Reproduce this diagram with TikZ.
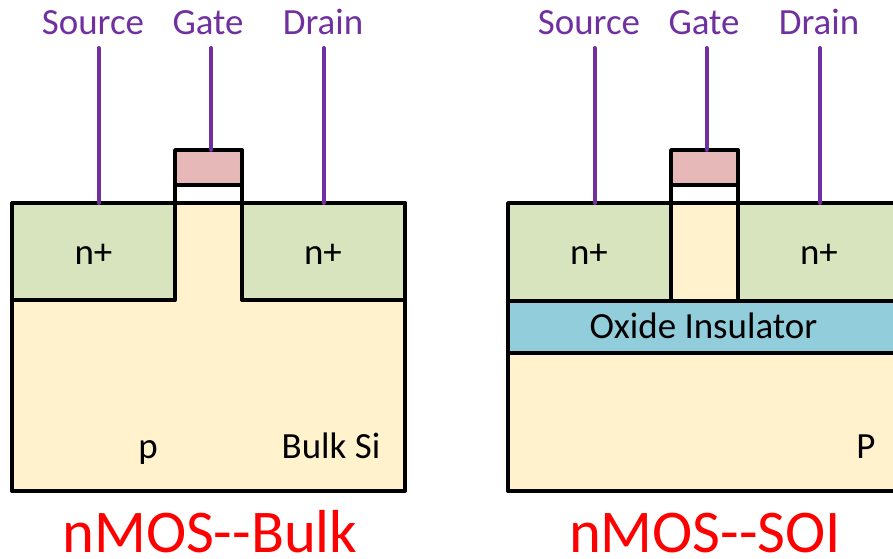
\documentclass[tikz,border=0pt]{standalone}
\usepackage{fontspec}
\setmainfont{Carlito}
\definecolor{nplus}{RGB}{215,228,189}
\definecolor{psub}{RGB}{255,242,204}
\definecolor{poly}{RGB}{230,185,184}
\definecolor{oxide}{RGB}{146,205,220}
\definecolor{leadpurple}{RGB}{112,48,160}
\tikzset{every picture/.style={line width=0.75pt}}
\tikzset{
  region/.style={draw=black,line width=2.9pt,line join=round},
  lead/.style={draw=leadpurple,line width=3pt,line cap=round},
  pinlabel/.style={anchor=base,inner sep=0.75pt,text=leadpurple,font=\fontsize{27.7}{30}\selectfont},
  bodylabel/.style={anchor=base,inner sep=0.75pt,font=\fontsize{27.7}{30}\selectfont},
  devtitle/.style={anchor=base,inner sep=0.75pt,text=red,font=\fontsize{45.5}{50}\selectfont}
}

\begin{document}
\begin{tikzpicture}[x=0.75pt,y=0.75pt,yscale=-1,xscale=1]
\useasboundingbox (0,0) rectangle (893,559);
\clip (0,0) rectangle (893,559);

%Shape: Bulk substrate
\draw [region,fill=psub] (12,203) -- (405,203) -- (405,491) -- (12,491) -- cycle ;
%Shape: Bulk source well
\draw [region,fill=nplus] (12,203) -- (175,203) -- (175,300) -- (12,300) -- cycle ;
%Shape: Bulk drain well
\draw [region,fill=nplus] (242,203) -- (405,203) -- (405,300) -- (242,300) -- cycle ;
%Shape: Bulk gate oxide
\draw [region,fill=white] (175,185) rectangle (242,203) ;
%Shape: Bulk gate
\draw [region,fill=poly] (175,150) rectangle (242,185) ;

%Shape: SOI substrate
\draw [region,fill=psub] (508,353) -- (905,353) -- (905,491) -- (508,491) -- cycle ;
%Shape: SOI oxide
\draw [region,fill=oxide] (508,301) -- (905,301) -- (905,353) -- (508,353) -- cycle ;
%Shape: SOI source well
\draw [region,fill=nplus] (508,203) -- (671,203) -- (671,301) -- (508,301) -- cycle ;
%Shape: SOI body
\draw [region,fill=psub] (671,203) rectangle (738,301) ;
%Shape: SOI drain well
\draw [region,fill=nplus] (738,203) -- (905,203) -- (905,301) -- (738,301) -- cycle ;
%Shape: SOI gate oxide
\draw [region,fill=white] (671,185) rectangle (738,203) ;
%Shape: SOI gate
\draw [region,fill=poly] (671,150) rectangle (738,185) ;

% Lead ends
\coordinate (bsourcetop) at (98.5,48);
\coordinate (bsourcepad) at (98.5,203);
\coordinate (bgatetop) at (211,48);
\coordinate (bgatepad) at (211,150);
\coordinate (bdraintop) at (323.5,48);
\coordinate (bdrainpad) at (323.5,203);
\coordinate (ssourcetop) at (594.5,48);
\coordinate (ssourcepad) at (594.5,203);
\coordinate (sgatetop) at (706.5,48);
\coordinate (sgatepad) at (706.5,150);
\coordinate (sdraintop) at (820,48);
\coordinate (sdrainpad) at (820,203);

\draw [lead] (bsourcetop) -- (bsourcepad) ;
\draw [lead] (bgatetop) -- (bgatepad) ;
\draw [lead] (bdraintop) -- (bdrainpad) ;
\draw [lead] (ssourcetop) -- (ssourcepad) ;
\draw [lead] (sgatetop) -- (sgatepad) ;
\draw [lead] (sdraintop) -- (sdrainpad) ;

% Text Node
\draw (93,35) node [pinlabel] (bsource) {Source};
% Text Node
\draw (208,35) node [pinlabel] (bgate) {Gate};
% Text Node
\draw (323,35) node [pinlabel] (bdrain) {Drain};
% Text Node
\draw (589,35) node [pinlabel] (ssource) {Source};
% Text Node
\draw (704,35) node [pinlabel] (sgate) {Gate};
% Text Node
\draw (819,35) node [pinlabel] (sdrain) {Drain};
% Text Node
\draw (93.5,264.5) node [bodylabel] (bleft) {n+};
% Text Node
\draw (323,264.5) node [bodylabel] (bright) {n+};
% Text Node
\draw (589,264.5) node [bodylabel] (sleft) {n+};
% Text Node
\draw (819,264.5) node [bodylabel] (sright) {n+};
% Text Node
\draw (703.5,339) node [bodylabel] (soxide) {Oxide Insulator};
% Text Node
\draw (148,459) node [bodylabel] (bsub) {p};
% Text Node
\draw (331,459) node [bodylabel] (bsi) {Bulk Si};
% Text Node
\draw (866,459) node [bodylabel] (ssub) {P};
% Text Node
\draw (210,552) node [devtitle] (btitle) {nMOS{-}{-}Bulk};
% Text Node
\draw (705,552) node [devtitle] (stitle) {nMOS{-}{-}SOI};

\end{tikzpicture}
\end{document}
